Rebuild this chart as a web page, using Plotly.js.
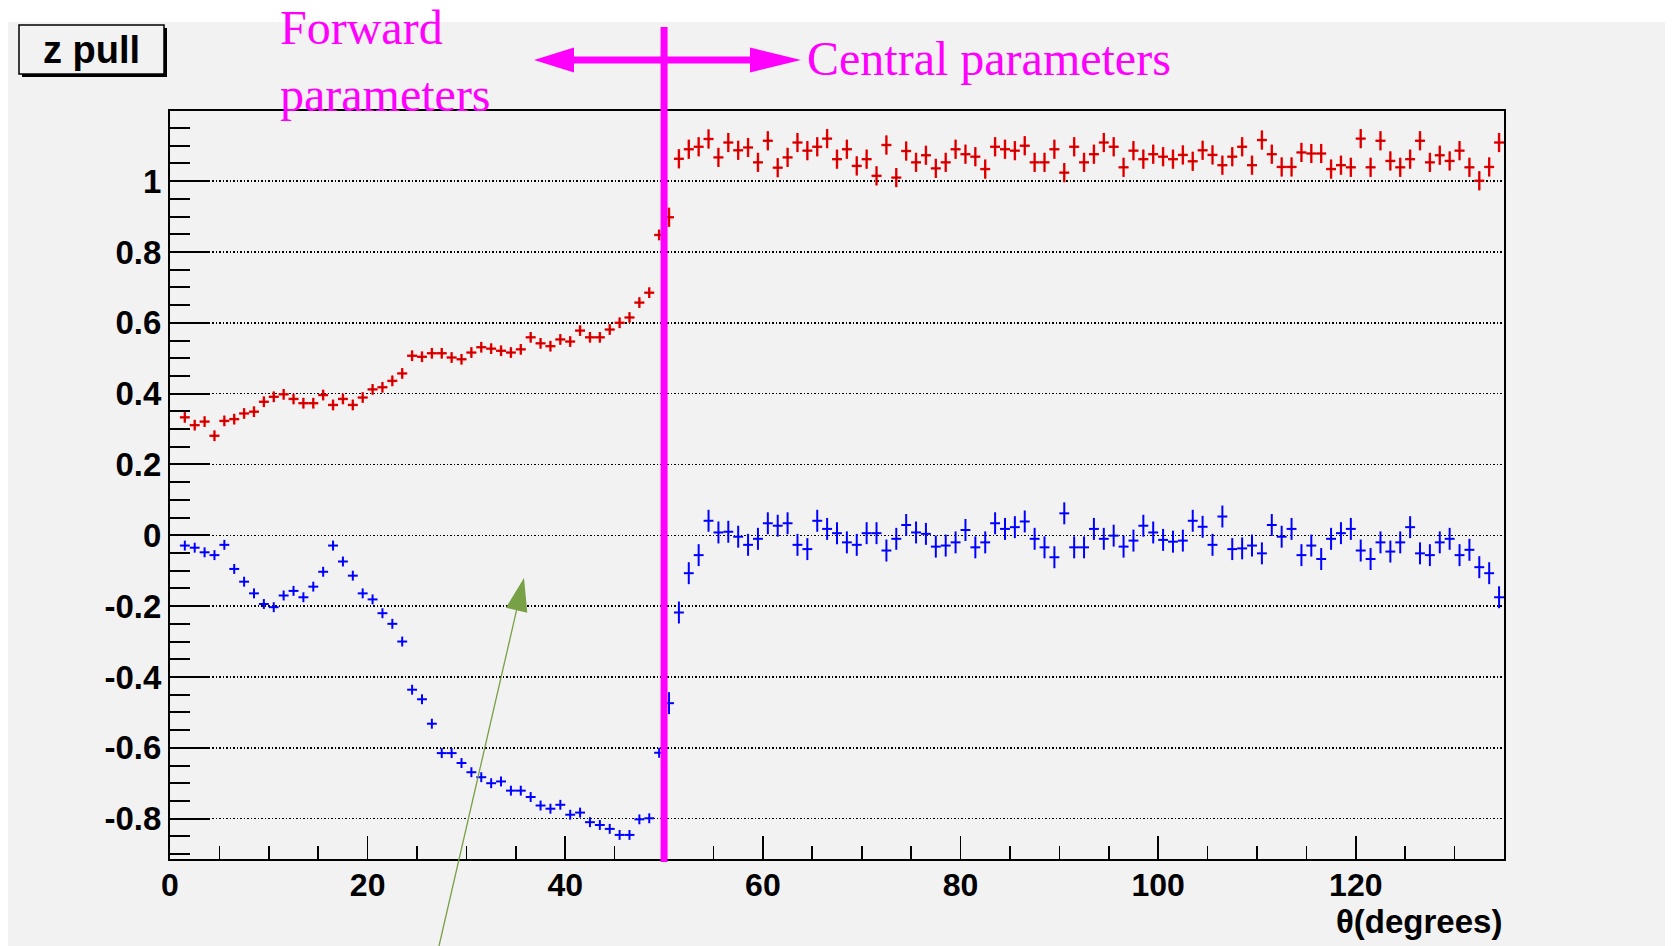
<!DOCTYPE html>
<html>
<head>
<meta charset="utf-8">
<script src="https://cdn.plot.ly/plotly-3.0.1.min.js"></script>
<style>
  html, body { margin: 0; padding: 0; background: #ffffff; }
  #chart { width: 1672px; height: 946px; }
</style>
</head>
<body>
<div id="chart"></div>
<script>
// Bin centres in theta (degrees), 1-degree bins
const thetaBins = [
  1.5, 2.5, 3.5, 4.5, 5.5, 6.5, 7.5, 8.5, 9.5, 10.5,
  11.5, 12.5, 13.5, 14.5, 15.5, 16.5, 17.5, 18.5, 19.5, 20.5,
  21.5, 22.5, 23.5, 24.5, 25.5, 26.5, 27.5, 28.5, 29.5, 30.5,
  31.5, 32.5, 33.5, 34.5, 35.5, 36.5, 37.5, 38.5, 39.5, 40.5,
  41.5, 42.5, 43.5, 44.5, 45.5, 46.5, 47.5, 48.5, 49.5, 50.5,
  51.5, 52.5, 53.5, 54.5, 55.5, 56.5, 57.5, 58.5, 59.5, 60.5,
  61.5, 62.5, 63.5, 64.5, 65.5, 66.5, 67.5, 68.5, 69.5, 70.5,
  71.5, 72.5, 73.5, 74.5, 75.5, 76.5, 77.5, 78.5, 79.5, 80.5,
  81.5, 82.5, 83.5, 84.5, 85.5, 86.5, 87.5, 88.5, 89.5, 90.5,
  91.5, 92.5, 93.5, 94.5, 95.5, 96.5, 97.5, 98.5, 99.5, 100.5,
  101.5, 102.5, 103.5, 104.5, 105.5, 106.5, 107.5, 108.5, 109.5, 110.5,
  111.5, 112.5, 113.5, 114.5, 115.5, 116.5, 117.5, 118.5, 119.5, 120.5,
  121.5, 122.5, 123.5, 124.5, 125.5, 126.5, 127.5, 128.5, 129.5, 130.5,
  131.5, 132.5, 133.5, 134.5
];

// Pull width (red histogram)
const pullWidth = [
  0.333, 0.311, 0.321, 0.281, 0.323, 0.328, 0.344, 0.349, 0.377, 0.391,
  0.398, 0.385, 0.373, 0.373, 0.396, 0.368, 0.385, 0.368, 0.389, 0.412,
  0.418, 0.436, 0.457, 0.507, 0.504, 0.514, 0.514, 0.502, 0.497, 0.516,
  0.531, 0.527, 0.521, 0.516, 0.525, 0.559, 0.542, 0.534, 0.553, 0.547,
  0.578, 0.559, 0.559, 0.581, 0.600, 0.615, 0.657, 0.685, 0.848, 0.898,
  1.063, 1.090, 1.097, 1.119, 1.067, 1.109, 1.087, 1.095, 1.053, 1.114,
  1.038, 1.067, 1.109, 1.086, 1.097, 1.120, 1.062, 1.090, 1.043, 1.062,
  1.015, 1.102, 1.010, 1.085, 1.053, 1.073, 1.036, 1.053, 1.090, 1.076,
  1.069, 1.034, 1.097, 1.090, 1.086, 1.100, 1.053, 1.053, 1.090, 1.024,
  1.097, 1.053, 1.076, 1.109, 1.097, 1.039, 1.086, 1.062, 1.076, 1.069,
  1.062, 1.074, 1.056, 1.087, 1.074, 1.045, 1.069, 1.097, 1.045, 1.116,
  1.076, 1.040, 1.040, 1.081, 1.078, 1.078, 1.034, 1.045, 1.039, 1.120,
  1.039, 1.114, 1.057, 1.039, 1.062, 1.114, 1.053, 1.073, 1.057, 1.086,
  1.039, 1.001, 1.040, 1.109
];

// Pull mean (blue histogram)
const pullMean = [
  -0.029, -0.035, -0.048, -0.056, -0.027, -0.095, -0.131, -0.164, -0.194, -0.203,
  -0.170, -0.157, -0.175, -0.145, -0.103, -0.029, -0.074, -0.114, -0.164, -0.181,
  -0.220, -0.250, -0.300, -0.436, -0.463, -0.532, -0.615, -0.615, -0.643, -0.669,
  -0.683, -0.700, -0.695, -0.721, -0.721, -0.739, -0.763, -0.772, -0.761, -0.789,
  -0.783, -0.810, -0.818, -0.829, -0.846, -0.846, -0.802, -0.799, -0.614, -0.474,
  -0.218, -0.107, -0.056, 0.041, 0.008, 0.010, -0.004, -0.027, -0.010, 0.034,
  0.027, 0.034, -0.027, -0.039, 0.041, 0.018, 0.006, -0.020, -0.027, 0.006,
  0.006, -0.043, -0.010, 0.029, 0.008, 0.004, -0.032, -0.029, -0.020, 0.015,
  -0.034, -0.020, 0.034, 0.018, 0.023, 0.039, -0.010, -0.034, -0.062, 0.062,
  -0.034, -0.034, 0.018, -0.010, -0.001, -0.032, -0.015, 0.027, 0.008, -0.013,
  -0.018, -0.015, 0.041, 0.024, -0.027, 0.053, -0.039, -0.037, -0.029, -0.051,
  0.029, -0.004, 0.018, -0.056, -0.029, -0.067, -0.010, 0.006, 0.018, -0.043,
  -0.067, -0.020, -0.046, -0.020, 0.023, -0.051, -0.056, -0.020, -0.010, -0.056,
  -0.041, -0.090, -0.107, -0.175
];

// Statistical errors, forward and central regions
const errWidthForward = 0.015, errWidthCentral = 0.027;
const errMeanForward = 0.014, errMeanCentral = 0.031;

// Boundary between forward and central parameter sets
const thetaBoundary = 50;

const xTickVals = [0, 20, 40, 60, 80, 100, 120];
const xTickText = ['0', '20', '40', '60', '80', '100', '120'];
const yTickVals = [-0.8, -0.6, -0.4, -0.2, 0, 0.2, 0.4, 0.6, 0.8, 1];
const yTickText = ['-0.8', '-0.6', '-0.4', '-0.2', '0', '0.2', '0.4', '0.6', '0.8', '1'];

// Plot frame in pixels
const W = 1672, H = 946;
const frame = { l: 170, r: 1504, t: 111, b: 859 };
const px = x => (x - frame.l) / (frame.r - frame.l);
const py = y => (frame.b - y) / (frame.b - frame.t);

function split(values) {
  const fwd = { x: [], y: [] }, cen = { x: [], y: [] };
  thetaBins.forEach((t, i) => {
    const target = t < thetaBoundary ? fwd : cen;
    target.x.push(t);
    target.y.push(values[i]);
  });
  return [fwd, cen];
}

function crossTrace(part, color, err, thick) {
  return {
    type: 'scatter', mode: 'markers',
    x: part.x, y: part.y,
    marker: { size: 2, color: color },
    error_x: { type: 'constant', value: 0.5, color: color, thickness: thick, width: 0 },
    error_y: { type: 'constant', value: err, color: color, thickness: thick, width: 0 },
    hoverinfo: 'skip'
  };
}

const [wFwd, wCen] = split(pullWidth);
const [mFwd, mCen] = split(pullMean);

const RED = '#ff0000', BLUE = '#0000ff', RED_CORE = '#a80000';
const data = [
  crossTrace(mFwd, BLUE, errMeanForward, 2),
  crossTrace(mCen, BLUE, errMeanCentral, 2),
  crossTrace(wFwd, RED, errWidthForward, 2.4),
  crossTrace(wCen, RED, errWidthCentral, 2.4),
  crossTrace(wFwd, RED_CORE, errWidthForward, 0.7),
  crossTrace(wCen, RED_CORE, errWidthCentral, 0.7)
];

const MAGENTA = '#ff00ff';
const GREEN = '#78a044';

// Pointer arrow geometry (pixels)
const tip = [524, 578], tail = [439, 946];
const dx = tip[0] - tail[0], dy = tip[1] - tail[1];
const len = Math.hypot(dx, dy);
const ux = dx / len, uy = dy / len;
const headLen = 33, headHalf = 11;
const base = [tip[0] - ux * headLen, tip[1] - uy * headLen];
const c1 = [base[0] - uy * headHalf, base[1] + ux * headHalf];
const c2 = [base[0] + uy * headHalf, base[1] - ux * headHalf];

function pathPx(points) {
  return 'M ' + points.map(p => px(p[0]) + ',' + py(p[1])).join(' L ') + ' Z';
}

const shapes = [
  // grey canvas
  { type: 'rect', xref: 'paper', yref: 'paper', layer: 'below',
    x0: px(8), x1: px(1665), y0: py(950), y1: py(22),
    fillcolor: '#f2f2f2', line: { width: 0 } },
  // title box shadow and box
  { type: 'rect', xref: 'paper', yref: 'paper',
    x0: px(22), x1: px(167), y0: py(77), y1: py(28),
    fillcolor: '#000000', line: { width: 0 } },
  { type: 'rect', xref: 'paper', yref: 'paper',
    x0: px(19), x1: px(164), y0: py(74), y1: py(25),
    fillcolor: '#f2f2f2', line: { color: '#000000', width: 1.5 } },
  // boundary line at theta = 50
  { type: 'line', xref: 'x', yref: 'paper',
    x0: thetaBoundary, x1: thetaBoundary, y0: py(862), y1: py(27),
    line: { color: MAGENTA, width: 7 } },
  // double arrow
  { type: 'rect', xref: 'paper', yref: 'paper',
    x0: px(565), x1: px(760), y0: py(63.5), y1: py(56.5),
    fillcolor: MAGENTA, line: { width: 0 } },
  { type: 'path', xref: 'paper', yref: 'paper',
    path: pathPx([[534, 60], [574, 47.5], [574, 72.5]]),
    fillcolor: MAGENTA, line: { width: 0 } },
  { type: 'path', xref: 'paper', yref: 'paper',
    path: pathPx([[801, 60], [750, 47.5], [750, 72.5]]),
    fillcolor: MAGENTA, line: { width: 0 } },
  // green pointer
  { type: 'line', xref: 'paper', yref: 'paper',
    x0: px(tail[0]), y0: py(tail[1]), x1: px(base[0]), y1: py(base[1]),
    line: { color: GREEN, width: 1.3 } },
  { type: 'path', xref: 'paper', yref: 'paper',
    path: pathPx([tip, c1, c2]),
    fillcolor: GREEN, line: { width: 0 } }
];

const serif = 'Liberation Serif, Times New Roman, serif';
const sans = 'Liberation Sans, Arial, Helvetica, sans-serif';

const annotations = [
  { xref: 'paper', yref: 'paper', x: px(91), y: py(50), xanchor: 'center', yanchor: 'middle',
    text: 'z pull', showarrow: false,
    font: { family: sans, size: 38, color: '#000000', weight: 'bold' } },
  { xref: 'paper', yref: 'paper', x: px(278), y: py(27), xanchor: 'left', yanchor: 'middle',
    text: 'Forward', showarrow: false,
    font: { family: serif, size: 48, color: MAGENTA } },
  { xref: 'paper', yref: 'paper', x: px(278), y: py(95), xanchor: 'left', yanchor: 'middle',
    text: 'parameters', showarrow: false,
    font: { family: serif, size: 48, color: MAGENTA } },
  { xref: 'paper', yref: 'paper', x: px(805), y: py(58), xanchor: 'left', yanchor: 'middle',
    text: 'Central parameters', showarrow: false,
    font: { family: serif, size: 48, color: MAGENTA } },
  { xref: 'paper', yref: 'paper', x: 1, y: py(921), xanchor: 'right', yanchor: 'middle',
    text: 'θ(degrees)', showarrow: false,
    font: { family: sans, size: 33, color: '#000000', weight: 'bold' } }
];

const tickFont = { family: sans, size: 32, color: '#000000', weight: 'bold' };

const layout = {
  width: W, height: H,
  margin: { l: frame.l, r: W - frame.r, t: frame.t, b: H - frame.b, pad: 0 },
  paper_bgcolor: '#ffffff',
  plot_bgcolor: '#f2f2f2',
  showlegend: false,
  xaxis: {
    range: [0, 135], tickmode: 'array', tickvals: xTickVals, ticktext: xTickText,
    ticks: 'inside', ticklen: 23, tickwidth: 1.6, tickcolor: '#000000',
    showline: true, linecolor: '#000000', linewidth: 2.4, mirror: true,
    showgrid: false, zeroline: false, tickfont: tickFont, ticklabelstandoff: -4,
    minor: { tickmode: 'linear', tick0: 0, dtick: 5, ticks: 'inside', ticklen: 13,
             tickwidth: 1.6, tickcolor: '#000000', showgrid: false }
  },
  yaxis: {
    range: [-0.914, 1.198], tickmode: 'array', tickvals: yTickVals, ticktext: yTickText,
    ticks: 'inside', ticklen: 40, tickwidth: 2, tickcolor: '#000000',
    showline: true, linecolor: '#000000', linewidth: 2, mirror: true,
    showgrid: true, gridcolor: '#000000', gridwidth: 1.5, griddash: '1.5px,2px',
    zeroline: false, tickfont: { family: sans, size: 33, color: '#000000', weight: 'bold' },
    minor: { tickmode: 'linear', tick0: 0, dtick: 0.05, ticks: 'inside', ticklen: 20,
             tickwidth: 2, tickcolor: '#000000', showgrid: false }
  },
  shapes: shapes,
  annotations: annotations
};

Plotly.newPlot('chart', data, layout, { displayModeBar: false, staticPlot: true });
</script>
</body>
</html>
